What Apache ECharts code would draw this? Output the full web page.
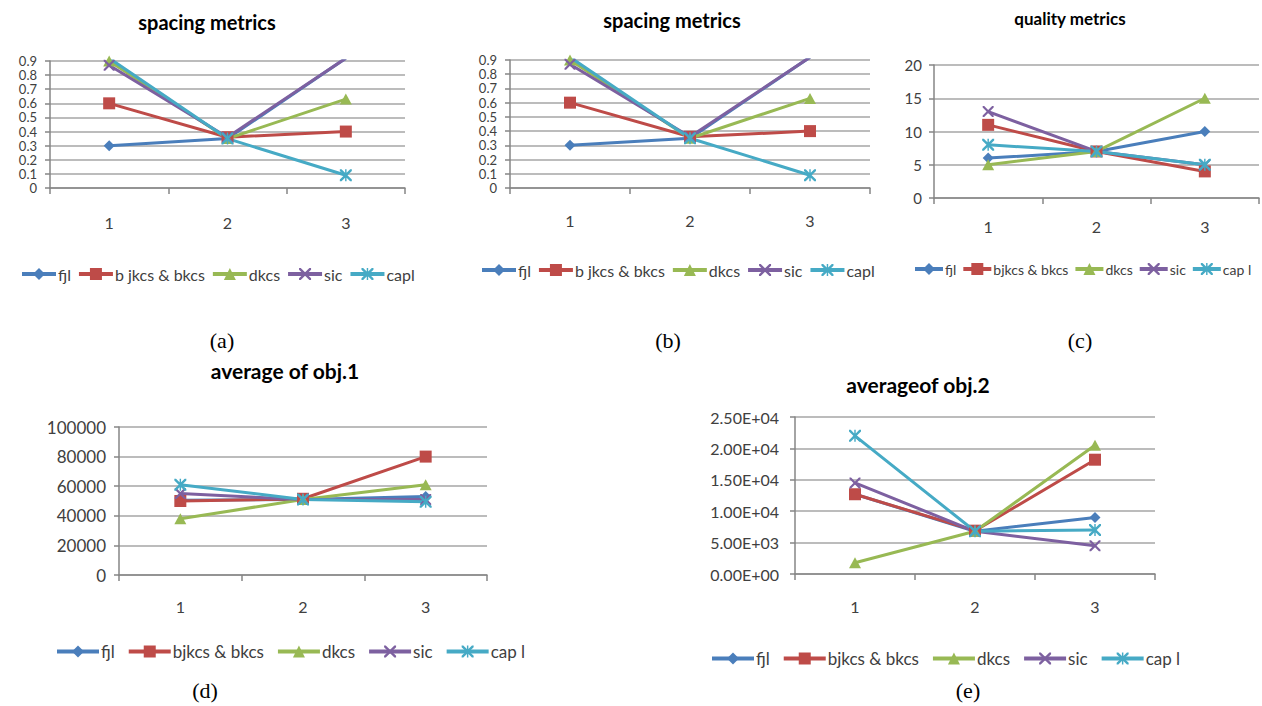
<!DOCTYPE html>
<html>
<head>
<meta charset="utf-8">
<script src="https://cdn.jsdelivr.net/npm/echarts@6/dist/echarts.min.js"></script>
<style>
  html, body { margin: 0; padding: 0; background: #fff; }
  #chart { width: 1262px; height: 706px; }
</style>
</head>
<body>
<div id="chart"></div>
<script>
// categories on every x axis
const categories = ['1', '2', '3']

// (a) and (b) spacing metrics
const spacingFjl = [0.3, 0.35, 0.92]
const spacingBjkcs = [0.6, 0.36, 0.4]
const spacingDkcs = [0.9, 0.35, 0.63]
const spacingSic = [0.87, 0.36, 0.92]
const spacingCapl = [0.92, 0.35, 0.09]

// (c) quality metrics
const qualityFjl = [6, 7, 10]
const qualityBjkcs = [11, 7, 4]
const qualityDkcs = [5, 7, 15]
const qualitySic = [13, 7, 5]
const qualityCapl = [8, 7, 5]

// (d) average of obj.1
const obj1Fjl = [50500, 51000, 53000]
const obj1Bjkcs = [50000, 51500, 80000]
const obj1Dkcs = [38000, 51000, 61000]
const obj1Sic = [55000, 51000, 51000]
const obj1Capl = [61000, 51000, 49500]

// (e) average of obj.2
const obj2Fjl = [12700, 6800, 9000]
const obj2Bjkcs = [12700, 6900, 18200]
const obj2Dkcs = [1800, 6800, 20500]
const obj2Sic = [14500, 6800, 4500]
const obj2Capl = [22000, 6800, 7000]

const namesAB = ['fjl', 'b jkcs & bkcs', 'dkcs', 'sic', 'capl']
const namesCDE = ['fjl', 'bjkcs & bkcs', 'dkcs', 'sic', 'cap l']

const colors = ['#4A7EBB', '#BE4B48', '#98B954', '#7D60A0', '#46AAC5']
const xPath = 'path://M0,0L1.4,0L5,3.6L8.6,0L10,0L10,1.4L6.4,5L10,8.6L10,10L8.6,10L5,6.4L1.4,10L0,10L0,8.6L3.6,5L0,1.4Z'
const starPath = xPath + 'M4.4,0L5.6,0L5.6,10L4.4,10Z'
const symbols = ['diamond', 'rect', 'triangle', xPath, starPath]
const symbolSizes = [[11, 11], [12, 12], [12, 11], [11, 11], [12, 12]]

const font = 'Lato'
const labelColor = '#404040'

function panelSeries(idx, names, lists) {
  return lists.map(function(data, i) {
    return {
      name: names[i],
      type: 'line',
      xAxisIndex: idx,
      yAxisIndex: idx,
      data: data,
      symbol: symbols[i],
      symbolSize: symbolSizes[i],
      showAllSymbol: true,
      clip: true,
      color: colors[i],
      lineStyle: { width: 3, color: colors[i] },
      itemStyle: { color: colors[i] },
      emphasis: { disabled: true },
      animation: false
    }
  })
}

function sci(v) {
  if (v === 0) return '0.00E+00'
  const e = Math.floor(Math.log10(Math.abs(v)))
  const m = (v / Math.pow(10, e)).toFixed(2)
  return m + 'E+' + (e < 10 ? '0' + e : e)
}

function plain(v) {
  return String(v)
}

function xAxis(idx, margin) {
  return {
    type: 'category',
    gridIndex: idx,
    data: categories,
    boundaryGap: true,
    axisLine: { lineStyle: { color: '#868686', width: 1.5 } },
    axisTick: { show: true, length: 6, lineStyle: { color: '#868686', width: 1.5 } },
    axisLabel: { margin: margin, fontFamily: font, fontSize: 16, color: labelColor }
  }
}

function yAxis(idx, max, interval, fontSize, margin, formatter) {
  return {
    type: 'value',
    gridIndex: idx,
    min: 0,
    max: max,
    interval: interval,
    axisLine: { show: true, lineStyle: { color: '#868686', width: 1.5 } },
    axisTick: { show: true, length: 5, lineStyle: { color: '#868686', width: 1.5 } },
    splitLine: { lineStyle: { color: '#a6a6a6', width: 1.5 } },
    axisLabel: {
      margin: margin,
      fontFamily: font,
      fontSize: fontSize,
      lineHeight: fontSize,
      color: labelColor,
      showMinLabel: true,
      showMaxLabel: true,
      hideOverlap: false,
      formatter: formatter || plain
    }
  }
}

function legend(names, left, top, fontSize, itemWidth, itemGap) {
  return {
    data: names,
    left: left,
    top: top,
    padding: 0,
    itemGap: itemGap,
    itemWidth: itemWidth,
    itemHeight: 15,
    selectedMode: false,
    lineStyle: { width: 4 },
    textStyle: { fontFamily: font, fontSize: fontSize, color: labelColor, padding: [0, 0, 0, -3] }
  }
}

function text(str, x, y, fontStr) {
  return {
    type: 'text',
    x: x,
    y: y,
    style: { text: str, font: fontStr, fill: '#000', align: 'center', verticalAlign: 'middle' }
  }
}

const chart = echarts.init(document.getElementById('chart'), null, { renderer: 'svg' })

chart.setOption({
  backgroundColor: '#fff',
  animation: false,
  grid: [
    { left: 50, top: 61, width: 355, height: 127 },
    { left: 510, top: 60, width: 360, height: 128 },
    { left: 934, top: 65, width: 325, height: 133 },
    { left: 119, top: 427, width: 368, height: 148 },
    { left: 795, top: 417, width: 360, height: 157 }
  ],
  xAxis: [xAxis(0, 26), xAxis(1, 24), xAxis(2, 20), xAxis(3, 23), xAxis(4, 24)],
  yAxis: [
    yAxis(0, 0.9, 0.1, 13, 13),
    yAxis(1, 0.9, 0.1, 13, 13),
    yAxis(2, 20, 5, 15, 12),
    yAxis(3, 100000, 20000, 17, 13),
    yAxis(4, 25000, 5000, 16, 16, sci)
  ],
  legend: [
    legend(namesAB, 20, 266, 16, 34, 6),
    legend(namesAB, 480, 262, 16, 34, 6),
    legend(namesCDE, 913, 262, 14, 28, 5),
    legend(namesCDE, 55, 643, 17, 42, 12),
    legend(namesCDE, 710, 650, 17, 42, 12)
  ],
  graphic: [
    text('spacing metrics', 207, 22, 'bold 20px Lato'),
    text('spacing metrics', 672, 20, 'bold 20px Lato'),
    text('quality metrics', 1070, 18, 'bold 17px Lato'),
    text('average of obj.1', 285, 370, 'bold 21px Lato'),
    text('averageof obj.2', 918, 384, 'bold 21px Lato'),
    text('(a)', 222, 340, '22px "Liberation Serif"'),
    text('(b)', 668, 340, '22px "Liberation Serif"'),
    text('(c)', 1080, 340, '22px "Liberation Serif"'),
    text('(d)', 205, 690, '22px "Liberation Serif"'),
    text('(e)', 968, 690, '22px "Liberation Serif"')
  ],
  series: [].concat(
    panelSeries(0, namesAB, [spacingFjl, spacingBjkcs, spacingDkcs, spacingSic, spacingCapl]),
    panelSeries(1, namesAB, [spacingFjl, spacingBjkcs, spacingDkcs, spacingSic, spacingCapl]),
    panelSeries(2, namesCDE, [qualityFjl, qualityBjkcs, qualityDkcs, qualitySic, qualityCapl]),
    panelSeries(3, namesCDE, [obj1Fjl, obj1Bjkcs, obj1Dkcs, obj1Sic, obj1Capl]),
    panelSeries(4, namesCDE, [obj2Fjl, obj2Bjkcs, obj2Dkcs, obj2Sic, obj2Capl])
  )
})
</script>
</body>
</html>
